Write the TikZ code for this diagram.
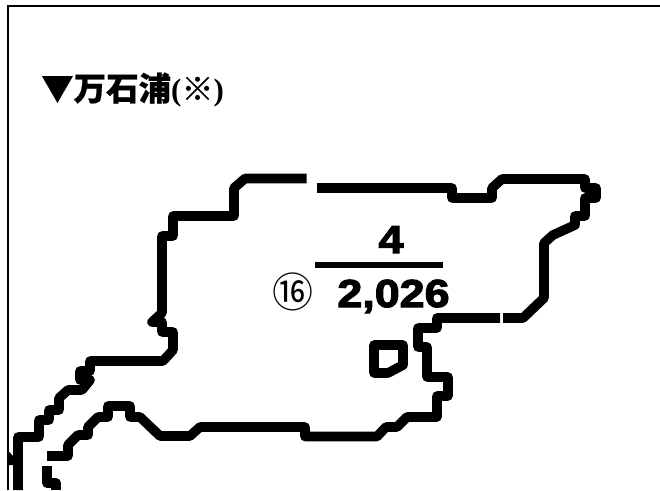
\documentclass[tikz,border=0pt]{standalone}
\usepackage{fontspec}
\setmainfont{Liberation Serif}
\newfontfamily\cjkbold{Noto Sans CJK JP Bold}[FakeBold=0.6]
\newfontfamily\cjklight{Noto Sans CJK JP}
\newfontfamily\numfont{Liberation Sans Bold}[FakeStretch=1.15,FakeBold=3]
\tikzset{
  coast/.style={line width=9.6pt,line join=round,line cap=butt,black},
  titletext/.style={anchor=base west,inner sep=0pt,font=\fontsize{32.5}{33}\selectfont\bfseries},
  numtext/.style={anchor=base,inner sep=0pt,font=\fontsize{39}{39}\selectfont\numfont},
}
\begin{document}
\begin{tikzpicture}[x=1pt,y=-1pt]
\useasboundingbox (0,0) rectangle (660,490);
\fill[white] (0,0) rectangle (660,490);
% frame
\draw[line width=2pt,black] (8.3,490) -- (8.3,6) -- (660,6);
% title
\node[titletext] (title) at (41,100.5) {{\cjkbold ▼万石浦}{\fontsize{31}{31}\selectfont (}{\cjkbold\fontsize{32}{32}\selectfont ※}{\fontsize{31}{31}\selectfont )}};
% main coast
\draw[coast] (306.5,178.5) -- (245,178.5) -- (234,188) -- (234,216) -- (173,216) -- (173,236) -- (162,236)
  -- (162,313) -- (152,322) -- (162,322) -- (162,332) -- (173,332) -- (173,350) -- (163,361) -- (90,361)
  -- (90,371) -- (80,371) -- (80,380) -- (90,380) -- (82,390) -- (68,390) -- (59,398) -- (59,410) -- (49,410)
  -- (49,420) -- (39,420) -- (39,437) -- (18,437) -- (18,490);
\draw[coast] (47,456) -- (68,456) -- (68,445) -- (78,435) -- (88,435) -- (88,427) -- (98,417) -- (108,417)
  -- (108,406) -- (130,406) -- (130,417) -- (140,417) -- (160,436) -- (190,436) -- (200,427) -- (305,427)
  -- (305,436.5) -- (377,436.5) -- (386,427) -- (397,427) -- (407,417) -- (437,417) -- (437,396) -- (448,396)
  -- (448,377) -- (427,377) -- (427,347) -- (418,347) -- (418,328) -- (437,328) -- (437,318) -- (500,318);
\draw[coast] (503,318) -- (523,318) -- (544,298) -- (544,243) -- (553,235) -- (575,225) -- (575,216) -- (585,216)
  -- (585,198) -- (596,198) -- (596,188) -- (585,188) -- (585,179) -- (502,179) -- (492,188) -- (492,198)
  -- (452,198) -- (452,188) -- (317,188);
\draw[coast] (47,466) -- (47,483) -- (56,483) -- (56,490);
\fill[black] (8.5,451) -- (13,456) -- (13,465) -- (8.5,465) -- cycle;
% island
\draw[coast] (374,345) -- (403,345) -- (403,365) -- (388,373) -- (374,373) -- cycle;
% fraction
\draw[line width=6pt,black] (315,265) -- (443,265);
\node[numtext] (numerator) at (391,253) {4};
\node[numtext] (denominator) at (393.5,307) {2,026};
\node[inner sep=0pt,font=\cjklight\fontsize{41}{41}\selectfont] (circled) at (293,292) {⑯};
\end{tikzpicture}
\end{document}
